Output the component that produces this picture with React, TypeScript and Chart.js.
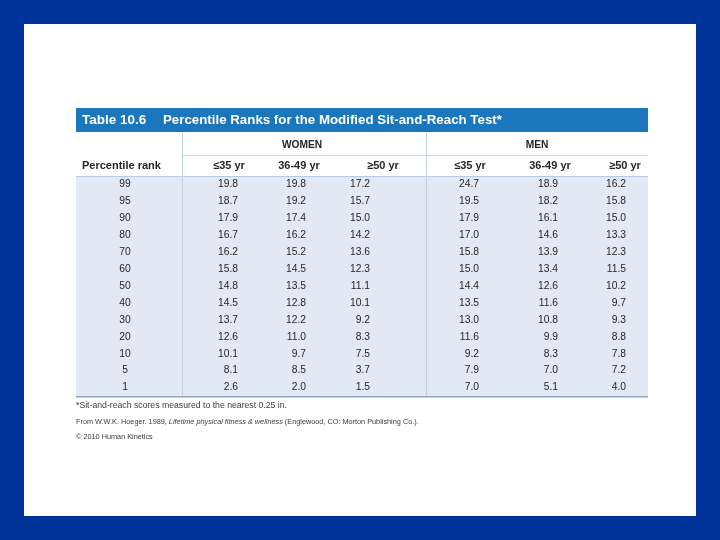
import React, { useEffect, useRef } from "react";
import { Chart, registerables } from "chart.js";
Chart.register(...registerables);

// ---- Data ----
const percentileRanks = ["99", "95", "90", "80", "70", "60", "50", "40", "30", "20", "10", "5", "1"];
const womenUpTo35 = [19.8, 18.7, 17.9, 16.7, 16.2, 15.8, 14.8, 14.5, 13.7, 12.6, 10.1, 8.1, 2.6];
const women36to49 = [19.8, 19.2, 17.4, 16.2, 15.2, 14.5, 13.5, 12.8, 12.2, 11.0, 9.7, 8.5, 2.0];
const women50plus = [17.2, 15.7, 15.0, 14.2, 13.6, 12.3, 11.1, 10.1, 9.2, 8.3, 7.5, 3.7, 1.5];
const menUpTo35 = [24.7, 19.5, 17.9, 17.0, 15.8, 15.0, 14.4, 13.5, 13.0, 11.6, 9.2, 7.9, 7.0];
const men36to49 = [18.9, 18.2, 16.1, 14.6, 13.9, 13.4, 12.6, 11.6, 10.8, 9.9, 8.3, 7.0, 5.1];
const men50plus = [16.2, 15.8, 15.0, 13.3, 12.3, 11.5, 10.2, 9.7, 9.3, 8.8, 7.8, 7.2, 4.0];
const ageGroups = ["≤35 yr", "36-49 yr", "≥50 yr"];
const sexGroups = ["WOMEN", "MEN"];
const tableNumber = "Table 10.6";
const tableTitle = "Percentile Ranks for the Modified Sit-and-Reach Test*";
const rankHeader = "Percentile rank";
const footnote = "*Sit-and-reach scores measured to the nearest 0.25 in.";
const sourcePre = "From W.W.K. Hoeger. 1989, ";
const sourceItalic = "Lifetime physical fitness & wellness";
const sourcePost = " (Englewood, CO: Morton Publishing Co.).";
const copyright = "© 2010 Human Kinetics";

// ---- Layout (x positions in layout units of the linear x scale) ----
const LAYOUT = {
  tableLeft: 76,
  tableRight: 648,
  rankX: 125,
  rankHeaderX: 82,
  divider1: 182,
  divider2: 426,
  valueRightX: [238, 306, 370, 479, 558, 626],
  headerCenterX: [229, 299, 383, 470, 550, 625],
  groupCenterX: [302, 537],
  barTop: 108,
  barBottom: 132,
  groupRowY: 145,
  groupLineY: 155.5,
  headerRowY: 166,
  titleNumberX: 82,
  titleX: 163,
  footY: [406, 422, 437],
};

const FONT = '"Liberation Sans", Arial, Helvetica, sans-serif';
const BLUE_BG = "#003399";
const BAR_BLUE = "#1a76bd";
const BODY_FILL = "#e2e9f4";
const TEXT = "#262626";

const columns = [womenUpTo35, women36to49, women50plus, menUpTo35, men36to49, men50plus];

const tablePlugin = {
  id: "tablePlugin",
  beforeDraw(chart: any) {
    const ctx = chart.ctx as CanvasRenderingContext2D;
    const xs = chart.scales.x;
    const area = chart.chartArea;
    const X = (v: number) => xs.getPixelForValue(v);
    ctx.save();
    // slide background
    ctx.fillStyle = BLUE_BG;
    ctx.fillRect(0, 0, chart.width, chart.height);
    ctx.fillStyle = "#ffffff";
    ctx.fillRect(24, 24, 672, 492);

    const L = X(LAYOUT.tableLeft);
    const R = X(LAYOUT.tableRight);

    // title bar
    ctx.fillStyle = BAR_BLUE;
    ctx.fillRect(L, LAYOUT.barTop, R - L, LAYOUT.barBottom - LAYOUT.barTop);
    ctx.fillStyle = "#ffffff";
    ctx.textBaseline = "middle";
    ctx.textAlign = "left";
    ctx.font = `bold 13.5px ${FONT}`;
    const ty = (LAYOUT.barTop + LAYOUT.barBottom) / 2 + 0.5;
    ctx.fillText(tableNumber, X(LAYOUT.titleNumberX), ty);
    ctx.font = `bold 13.3px ${FONT}`;
    ctx.fillText(tableTitle, X(LAYOUT.titleX), ty);

    // body fill
    ctx.fillStyle = BODY_FILL;
    ctx.fillRect(L, area.top, R - L, area.bottom - area.top);

    // lines
    ctx.strokeStyle = "#c9d5e6";
    ctx.lineWidth = 1;
    ctx.beginPath();
    ctx.moveTo(X(LAYOUT.divider1), LAYOUT.groupLineY);
    ctx.lineTo(R, LAYOUT.groupLineY);
    ctx.stroke();
    ctx.strokeStyle = "#b9c9de";
    ctx.beginPath();
    ctx.moveTo(L, area.top + 0.5);
    ctx.lineTo(R, area.top + 0.5);
    ctx.stroke();
    ctx.strokeStyle = "#c3d0e2";
    [LAYOUT.divider1, LAYOUT.divider2].forEach((d) => {
      ctx.beginPath();
      ctx.moveTo(X(d) + 0.5, LAYOUT.barBottom + 1);
      ctx.lineTo(X(d) + 0.5, area.bottom);
      ctx.stroke();
    });
    ctx.strokeStyle = "#8da4c4";
    ctx.lineWidth = 1.5;
    ctx.beginPath();
    ctx.moveTo(L, area.bottom + 0.75);
    ctx.lineTo(R, area.bottom + 0.75);
    ctx.stroke();

    // group headers
    ctx.fillStyle = TEXT;
    ctx.textAlign = "center";
    ctx.font = `bold 10.2px ${FONT}`;
    sexGroups.forEach((g, i) => ctx.fillText(g, X(LAYOUT.groupCenterX[i]), LAYOUT.groupRowY));
    // column headers
    ctx.font = `bold 11px ${FONT}`;
    ctx.textAlign = "left";
    ctx.fillText(rankHeader, X(LAYOUT.rankHeaderX), LAYOUT.headerRowY);
    ctx.textAlign = "center";
    LAYOUT.headerCenterX.forEach((cx, i) => {
      ctx.fillText(ageGroups[i % 3], X(cx), LAYOUT.headerRowY);
    });

    // footnotes
    ctx.textAlign = "left";
    ctx.fillStyle = "#3a3a3a";
    ctx.font = `8.7px ${FONT}`;
    ctx.fillText(footnote, L, LAYOUT.footY[0]);
    ctx.font = `7.3px ${FONT}`;
    let fx = L;
    ctx.fillText(sourcePre, fx, LAYOUT.footY[1]);
    fx += ctx.measureText(sourcePre).width;
    ctx.font = `italic 7.3px ${FONT}`;
    ctx.fillText(sourceItalic, fx, LAYOUT.footY[1]);
    fx += ctx.measureText(sourceItalic).width;
    ctx.font = `7.3px ${FONT}`;
    ctx.fillText(sourcePost, fx, LAYOUT.footY[1]);
    ctx.fillText(copyright, L, LAYOUT.footY[2]);
    ctx.restore();
  },
  afterDatasetsDraw(chart: any) {
    const ctx = chart.ctx as CanvasRenderingContext2D;
    ctx.save();
    ctx.fillStyle = TEXT;
    ctx.textBaseline = "middle";
    ctx.font = `10.3px ${FONT}`;
    chart.data.datasets.forEach((ds: any, di: number) => {
      const meta = chart.getDatasetMeta(di);
      meta.data.forEach((el: any, i: number) => {
        const raw = ds.data[i];
        ctx.textAlign = ds.kind === "rank" ? "center" : "right";
        ctx.fillText(raw.label, el.x, el.y);
      });
    });
    ctx.restore();
  },
};

export default function App() {
  const ref = useRef<HTMLCanvasElement | null>(null);
  useEffect(() => {
    if (!ref.current) return;
    const datasets: any[] = [
      {
        kind: "rank",
        label: rankHeader,
        data: percentileRanks.map((r) => ({ x: LAYOUT.rankX, y: r, label: r })),
        pointRadius: 0,
        showLine: false,
      },
      ...columns.map((vals, c) => ({
        kind: "value",
        label: `${sexGroups[c < 3 ? 0 : 1]} ${ageGroups[c % 3]}`,
        data: vals.map((v, i) => ({ x: LAYOUT.valueRightX[c], y: percentileRanks[i], label: v.toFixed(1) })),
        pointRadius: 0,
        showLine: false,
      })),
    ];
    const chart = new Chart(ref.current, {
      type: "scatter",
      data: { datasets },
      options: {
        animation: false,
        responsive: false,
        devicePixelRatio: 1,
        layout: { padding: { top: 176, bottom: 144, left: 0, right: 0 } },
        plugins: { legend: { display: false }, tooltip: { enabled: false }, title: { display: false } },
        scales: {
          x: { type: "linear", min: 0, max: 720, display: false },
          y: { type: "category", labels: percentileRanks, offset: true, display: false },
        },
      },
      plugins: [tablePlugin],
    } as any);
    return () => chart.destroy();
  }, []);
  return (
    <div style={{ position: "fixed", left: 0, top: 0, width: 720, height: 540, background: BLUE_BG }}>
      <canvas ref={ref} width={720} height={540} style={{ display: "block", width: 720, height: 540 }} />
    </div>
  );
}
